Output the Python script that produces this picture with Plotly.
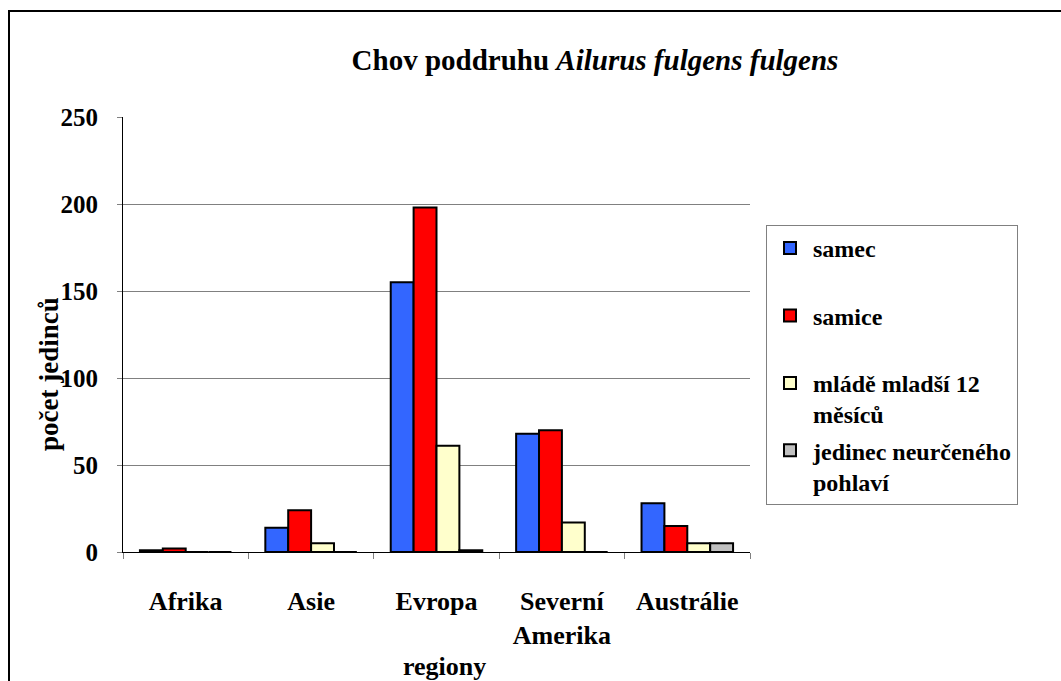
import plotly.graph_objects as go

categories = ["Afrika", "Asie", "Evropa", "Severní<br>Amerika", "Austrálie"]
series_names = ["samec", "samice", "mládě mladší 12<br>měsíců", "jedinec neurčeného<br>pohlaví"]
samec = [1, 14, 155, 68, 28]
samice = [2, 24, 198, 70, 15]
mlade = [0, 5, 61, 17, 5]
neurceny = [0, 0, 1, 0, 5]
y_ticks = [0, 50, 100, 150, 200, 250]

colors = ["#3366FF", "#FF0000", "#FFFFCC", "#C0C0C0"]
FONT = "Liberation Serif, Times New Roman, serif"

W, H = 1061, 681
L, R, T, B = 123, 750, 117, 552
pw, ph = R - L, B - T

def px_x(px):
    return (px - L) / pw

def px_y(py):
    return (B - py) / ph

fig = go.Figure()
for i, (name, vals) in enumerate(zip(series_names, [samec, samice, mlade, neurceny])):
    # pad single-line names so every legend entry has the same height
    label = name + ("" if "<br>" in name else "<br> ")
    fig.add_trace(go.Bar(
        x=categories, y=vals, name=label,
        marker=dict(color=colors[i], line=dict(color="black", width=2)),
        legendgroup=f"g{i}",
    ))

fig.update_layout(
    width=W, height=H,
    margin=dict(l=L, r=W - R, t=T, b=H - B, autoexpand=False),
    paper_bgcolor="white", plot_bgcolor="white",
    barmode="group", bargap=0.27, bargroupgap=0,
    font=dict(family=FONT, color="black"),
    title=dict(
        text="<b>Chov poddruhu <i>Ailurus fulgens fulgens</i></b>",
        x=595 / W, xanchor="center", xref="container",
        y=1 - 60 / H, yanchor="middle", yref="container",
        font=dict(family=FONT, size=29, color="black"),
    ),
    legend=dict(
        x=px_x(766), y=px_y(225), xanchor="left", yanchor="top",
        bordercolor="#808080", borderwidth=1, bgcolor="white",
        font=dict(family=FONT, size=24, color="black", weight="bold"),
        tracegroupgap=2, itemwidth=36, valign="top",
    ),
    showlegend=True,
)

fig.update_xaxes(
    showline=True, linecolor="black", linewidth=1,
    ticks="outside", tickson="boundaries", ticklen=6, tickcolor="#808080",
    tickfont=dict(family=FONT, size=26, color="black", weight="bold"),
    ticklabelstandoff=26,
    showgrid=False,
)
fig.update_yaxes(
    range=[0, 250], tickvals=y_ticks,
    showline=True, linecolor="black", linewidth=1,
    ticks="outside", ticklen=5, tickcolor="#808080",
    tickfont=dict(family=FONT, size=25, color="black", weight="bold"),
    ticklabelstandoff=14,
    showgrid=True, gridcolor="#808080", gridwidth=1,
    zeroline=False,
)

fig.add_annotation(
    text="<b>regiony</b>", x=px_x(444), y=px_y(666), xref="paper", yref="paper",
    showarrow=False, xanchor="center", yanchor="middle",
    font=dict(family=FONT, size=26, color="black"),
)
fig.add_annotation(
    text="<b>počet jedinců</b>", x=px_x(49), y=px_y(374), xref="paper", yref="paper",
    showarrow=False, xanchor="center", yanchor="middle", textangle=-90,
    font=dict(family=FONT, size=27, color="black"),
)

fig.add_shape(
    type="rect", xref="paper", yref="paper",
    x0=px_x(9), x1=px_x(1075), y0=px_y(695), y1=px_y(11),
    line=dict(color="black", width=2), fillcolor="rgba(0,0,0,0)", layer="above",
)

fig.write_html(
    "out.html",
    config={"displayModeBar": False},
    post_script="document.body.style.margin='0px';",
)
